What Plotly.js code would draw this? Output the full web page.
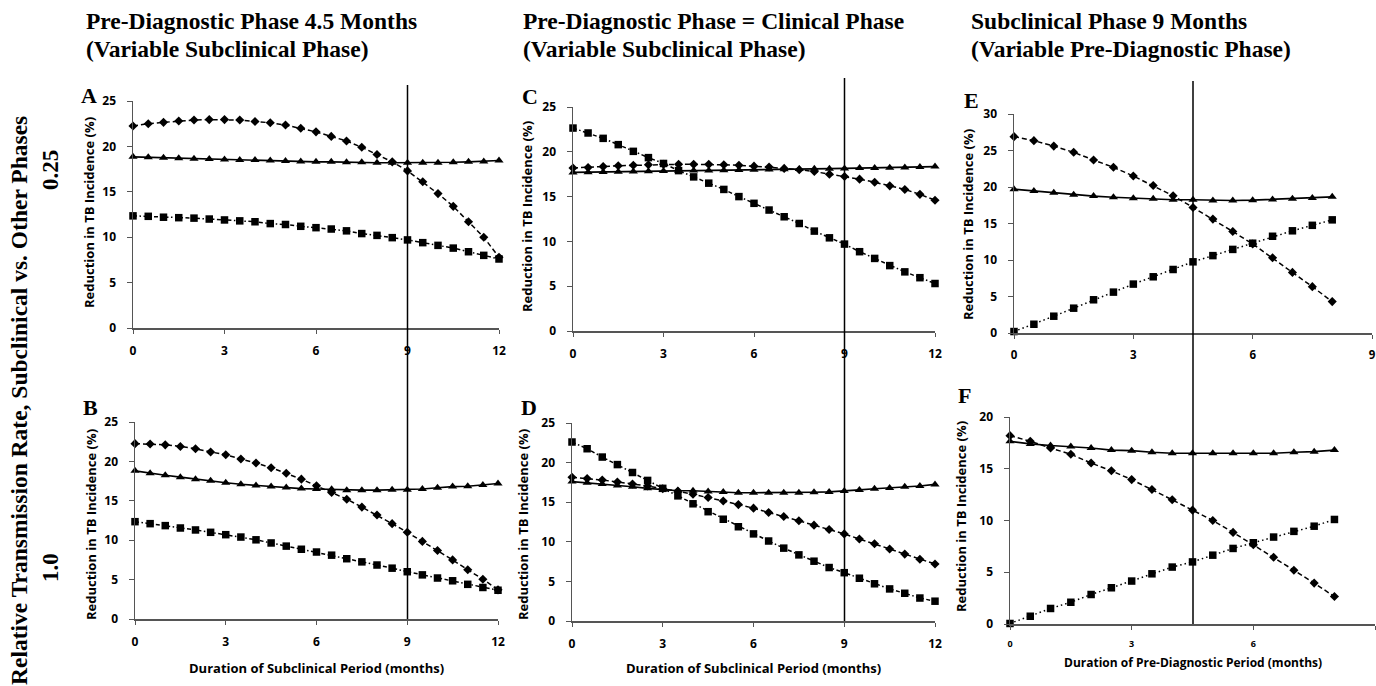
<!DOCTYPE html>
<html>
<head>
<meta charset="utf-8">
<script src="https://cdn.plot.ly/plotly-3.0.1.min.js"></script>
<style>html,body{margin:0;padding:0;background:#fff;}#chart{width:1376px;height:686px;}</style>
</head>
<body>
<div id="chart"></div>
<script>
// x values
const xSub = [0,0.5,1,1.5,2,2.5,3,3.5,4,4.5,5,5.5,6,6.5,7,7.5,8,8.5,9,9.5,10,10.5,11,11.5,12];
const xPre = [0,0.5,1,1.5,2,2.5,3,3.5,4,4.5,5,5.5,6,6.5,7,7.5,8];

// Panel A (0.25, pre-diagnostic 4.5 months)
const aDiamond = [22.25,22.5,22.65,22.8,22.9,22.95,22.95,22.9,22.75,22.6,22.35,22.0,21.6,21.1,20.6,19.9,19.1,18.3,17.3,16.1,14.8,13.4,11.7,10.0,7.8];
const aTriangle = [18.85,18.8,18.75,18.7,18.65,18.6,18.55,18.5,18.5,18.45,18.4,18.35,18.3,18.3,18.25,18.25,18.2,18.2,18.2,18.2,18.2,18.25,18.3,18.35,18.45];
const aSquare = [12.35,12.3,12.2,12.15,12.1,12.0,11.9,11.8,11.7,11.5,11.4,11.2,11.05,10.9,10.7,10.4,10.2,9.95,9.7,9.4,9.1,8.8,8.4,8.0,7.6];

// Panel B (1.0, pre-diagnostic 4.5 months)
const bDiamond = [22.25,22.2,22.1,21.9,21.6,21.2,20.85,20.3,19.8,19.2,18.5,17.75,16.9,16.05,15.2,14.2,13.2,12.1,11.0,9.85,8.7,7.5,6.25,5.05,3.7];
const bTriangle = [18.8,18.5,18.25,18.0,17.75,17.55,17.3,17.1,16.95,16.8,16.7,16.55,16.5,16.45,16.35,16.35,16.35,16.4,16.4,16.5,16.65,16.8,16.85,17.0,17.2];
const bSquare = [12.35,12.1,11.85,11.55,11.3,11.0,10.7,10.4,10.05,9.65,9.25,8.85,8.5,8.1,7.65,7.25,6.85,6.45,6.0,5.6,5.2,4.85,4.4,4.0,3.65];

// Panel C (0.25, pre-diagnostic = clinical)
const cDiamond = [18.2,18.25,18.35,18.45,18.5,18.55,18.6,18.6,18.6,18.6,18.55,18.5,18.4,18.3,18.15,18.0,17.8,17.5,17.25,16.95,16.6,16.2,15.8,15.25,14.6];
const cTriangle = [17.7,17.72,17.75,17.78,17.8,17.83,17.85,17.88,17.9,17.92,17.95,17.97,18.0,18.02,18.05,18.07,18.1,18.12,18.15,18.18,18.2,18.23,18.26,18.3,18.35];
const cSquare = [22.65,22.1,21.5,20.8,20.05,19.35,18.7,17.9,17.2,16.5,15.8,15.0,14.25,13.5,12.75,12.0,11.15,10.4,9.7,8.85,8.1,7.3,6.6,5.95,5.3];

// Panel D (1.0, pre-diagnostic = clinical)
const dDiamond = [18.15,18.0,17.8,17.55,17.3,17.05,16.7,16.4,16.0,15.6,15.15,14.7,14.25,13.7,13.2,12.65,12.1,11.55,11.0,10.35,9.75,9.1,8.45,7.8,7.2];
const dTriangle = [17.6,17.45,17.3,17.1,16.95,16.75,16.6,16.45,16.45,16.35,16.3,16.2,16.2,16.2,16.2,16.2,16.25,16.3,16.4,16.55,16.7,16.8,16.95,17.05,17.25];
const dSquare = [22.6,21.75,20.7,19.75,18.75,17.75,16.75,15.8,14.8,13.8,12.85,11.9,11.0,10.1,9.2,8.35,7.55,6.75,6.1,5.4,4.7,4.05,3.5,2.9,2.5];

// Panel E (0.25, subclinical 9 months)
const eDiamond = [26.9,26.35,25.6,24.75,23.7,22.7,21.5,20.2,18.8,17.2,15.6,13.9,12.2,10.3,8.3,6.35,4.3];
const eTriangle = [19.7,19.45,19.2,18.95,18.75,18.6,18.45,18.4,18.25,18.25,18.15,18.15,18.2,18.3,18.4,18.5,18.65];
const eSquare = [0.2,1.2,2.3,3.4,4.55,5.6,6.7,7.7,8.7,9.75,10.6,11.45,12.3,13.25,14.0,14.75,15.5];

// Panel F (1.0, subclinical 9 months)
const fDiamond = [18.2,17.65,17.0,16.4,15.55,14.8,13.95,13.0,12.0,11.0,10.0,8.85,7.65,6.45,5.2,3.95,2.65];
const fTriangle = [17.65,17.4,17.25,17.15,17.0,16.8,16.75,16.6,16.5,16.5,16.5,16.5,16.5,16.5,16.6,16.65,16.8];
const fSquare = [0.05,0.75,1.5,2.1,2.85,3.5,4.15,4.85,5.5,6.0,6.65,7.3,7.85,8.4,8.95,9.45,10.1];

// Text
const colTitles = [
  ["Pre-Diagnostic Phase 4.5 Months","(Variable Subclinical Phase)"],
  ["Pre-Diagnostic Phase = Clinical Phase","(Variable Subclinical Phase)"],
  ["Subclinical Phase 9 Months","(Variable Pre-Diagnostic Phase)"]
];
const panelLetters = ["A","B","C","D","E","F"];
const yTitle = "Reduction in TB Incidence (%)";
const xTitleSub = "Duration of Subclinical Period (months)";
const xTitlePre = "Duration of Pre-Diagnostic Period (months)";
const rowLabel = "Relative Transmission Rate, Subclinical vs. Other Phases";
const rowValues = ["0.25","1.0"];
const markerLines = [9, 9, 4.5]; // vertical reference line per column

const W = 1376, H = 686;
const px = v => v / W;
const py = v => 1 - v / H;

// panel boxes in pixels [left, right, top, bottom]
const boxes = {
  A: [133, 499, 101, 328],
  B: [135, 498, 422, 619],
  C: [573, 935, 107, 331],
  D: [572, 935, 423, 621],
  E: [1014, 1372, 114, 333],
  F: [1010, 1375, 417, 624]
};
const axisIds = {A:'', B:'2', C:'3', D:'4', E:'5', F:'6'};

const SANS = '"Open Sans", "Noto Sans", sans-serif';
const tickFont = {family: SANS, size: 12, color: '#000', weight: 'bold'};
const serifBold = {family: '"Liberation Serif", "Times New Roman", serif', color: '#000', weight: 'bold'};
const sansBold = {family: SANS, color: '#000', weight: 'bold'};

const layout = {
  width: W, height: H,
  margin: {l:0, r:0, t:0, b:0},
  paper_bgcolor: '#fff', plot_bgcolor: 'rgba(0,0,0,0)',
  showlegend: false,
  annotations: [],
  shapes: []
};

function axisDefs(key, xmax, ymax, xTickSize) {
  const b = boxes[key];
  const id = axisIds[key];
  layout['xaxis' + id] = {
    domain: [px(b[0]), px(b[1])], anchor: 'y' + id,
    range: [0, xmax], tick0: 0, dtick: 3, tickmode: 'linear',
    showgrid: false, zeroline: false, showline: true, linecolor: '#555', linewidth: 1.5,
    ticks: 'outside', ticklen: 4, tickwidth: 1, tickcolor: '#555',
    ticklabelstandoff: 7,
    tickfont: Object.assign({}, tickFont, {size: xTickSize}),
    fixedrange: true
  };
  layout['yaxis' + id] = {
    domain: [py(b[3]), py(b[2])], anchor: 'x' + id,
    range: [0, ymax], tick0: 0, dtick: 5, tickmode: 'linear',
    showgrid: false, zeroline: false, showline: true, linecolor: '#555', linewidth: 1.5,
    ticks: 'outside', ticklen: 5, tickwidth: 1, tickcolor: '#555',
    ticklabelstandoff: 8,
    tickfont: tickFont,
    fixedrange: true
  };
}
axisDefs('A', 12, 25, 12);
axisDefs('B', 12, 25, 12);
axisDefs('C', 12, 25, 12);
axisDefs('D', 12, 25, 12);
axisDefs('E', 9, 30, 11.5);
axisDefs('F', 9, 20, 9);

const traces = [];
function addPanel(key, xs, dia, tri, sq, sqDash) {
  const id = axisIds[key];
  const common = {xaxis: 'x' + id, yaxis: 'y' + id, mode: 'lines+markers', cliponaxis: false, hoverinfo: 'skip'};
  traces.push(Object.assign({}, common, {x: xs, y: tri, line: {color: '#000', width: 1.6},
    marker: {symbol: 'triangle-up', size: 8, color: '#000'}}));
  traces.push(Object.assign({}, common, {x: xs, y: dia, line: {color: '#000', width: 1.5, dash: '5px,3px'},
    marker: {symbol: 'diamond', size: 7, color: '#000'}}));
  traces.push(Object.assign({}, common, {x: xs, y: sq, line: {color: '#000', width: 1.5, dash: sqDash},
    marker: {symbol: 'square', size: 7.5, color: '#000'}}));
}
const dashDot = '4px,2.5px,1.5px,2.5px';
const dotted = '1.5px,3px';
addPanel('A', xSub, aDiamond, aTriangle, aSquare, dashDot);
addPanel('B', xSub, bDiamond, bTriangle, bSquare, dashDot);
addPanel('C', xSub, cDiamond, cTriangle, cSquare, dashDot);
addPanel('D', xSub, dDiamond, dTriangle, dSquare, dashDot);
addPanel('E', xPre, eDiamond, eTriangle, eSquare, dotted);
addPanel('F', xPre, fDiamond, fTriangle, fSquare, dotted);

// vertical reference lines spanning both rows of each column
const vlines = [
  {xref: 'x', x: markerLines[0], top: 85, bottom: 619},
  {xref: 'x3', x: markerLines[1], top: 78, bottom: 621},
  {xref: 'x5', x: markerLines[2], top: 81, bottom: 624}
];
vlines.forEach(v => layout.shapes.push({type: 'line', xref: v.xref, yref: 'paper',
  x0: v.x, x1: v.x, y0: py(v.bottom), y1: py(v.top), line: {color: '#000', width: 1.5}}));

// column titles (two lines each)
const titleX = [84, 521, 969];
const titleY = [21, 49];
colTitles.forEach((t, i) => {
  t.forEach((line, j) => {
    layout.annotations.push({xref: 'paper', yref: 'paper', x: px(titleX[i]), y: py(titleY[j]),
      xanchor: 'left', yanchor: 'middle', align: 'left', showarrow: false,
      text: line, font: Object.assign({}, serifBold, {size: 23.5})});
  });
});

// panel letters
const letterPos = {A: [79, 95], B: [81, 407], C: [520, 96], D: [519, 407], E: [962, 101], F: [956, 395]};
panelLetters.forEach(k => {
  layout.annotations.push({xref: 'paper', yref: 'paper', x: px(letterPos[k][0]), y: py(letterPos[k][1]),
    xanchor: 'left', yanchor: 'middle', showarrow: false, text: k,
    font: Object.assign({}, serifBold, {size: 22})});
});

// y titles
const yTitlePos = {A: [89, 213], B: [91, 525], C: [527, 217], D: [523, 525], E: [968, 225], F: [961, 517]};
Object.keys(yTitlePos).forEach(k => {
  layout.annotations.push({xref: 'paper', yref: 'paper', x: px(yTitlePos[k][0]), y: py(yTitlePos[k][1]),
    xanchor: 'center', yanchor: 'middle', showarrow: false, textangle: -90, text: yTitle,
    font: Object.assign({}, sansBold, {size: 13})});
});

// x titles
layout.annotations.push({xref: 'paper', yref: 'paper', x: px(316), y: py(668), xanchor: 'center', yanchor: 'middle',
  showarrow: false, text: xTitleSub, font: Object.assign({}, sansBold, {size: 13})});
layout.annotations.push({xref: 'paper', yref: 'paper', x: px(753), y: py(668), xanchor: 'center', yanchor: 'middle',
  showarrow: false, text: xTitleSub, font: Object.assign({}, sansBold, {size: 13})});
layout.annotations.push({xref: 'paper', yref: 'paper', x: px(1193), y: py(662), xanchor: 'center', yanchor: 'middle',
  showarrow: false, text: xTitlePre, font: Object.assign({}, sansBold, {size: 12})});

// row label
layout.annotations.push({xref: 'paper', yref: 'paper', x: px(19), y: py(401), xanchor: 'center', yanchor: 'middle',
  showarrow: false, textangle: -90, text: rowLabel, font: Object.assign({}, serifBold, {size: 23.5})});
layout.annotations.push({xref: 'paper', yref: 'paper', x: px(50), y: py(170), xanchor: 'center', yanchor: 'middle',
  showarrow: false, textangle: -90, text: rowValues[0], font: Object.assign({}, serifBold, {size: 23})});
layout.annotations.push({xref: 'paper', yref: 'paper', x: px(50), y: py(568), xanchor: 'center', yanchor: 'middle',
  showarrow: false, textangle: -90, text: rowValues[1], font: Object.assign({}, serifBold, {size: 23})});

Plotly.newPlot('chart', traces, layout, {staticPlot: true, displayModeBar: false});
</script>
</body>
</html>
